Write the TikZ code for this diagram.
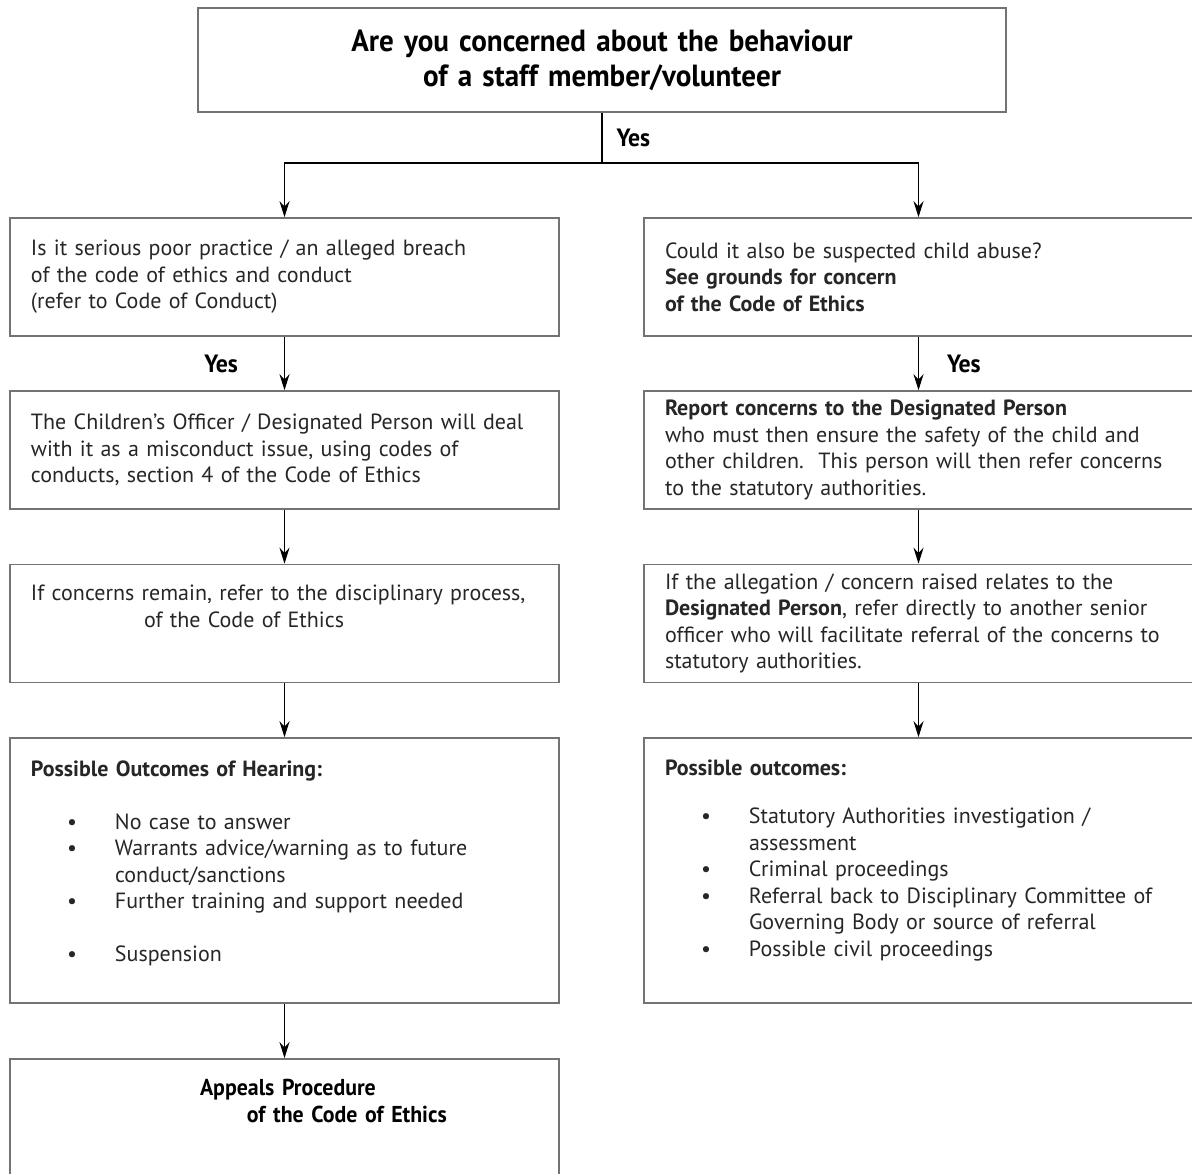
\documentclass[tikz,border=0pt]{standalone}
\usepackage{fontspec}
\setmainfont{PT Sans}
\newfontfamily\condfont[FakeStretch=0.95]{PT Sans}
\usetikzlibrary{arrows.meta,positioning}
\tikzset{
  box/.style={draw=black!55,line width=0.8pt,rectangle,minimum width=274.5pt,minimum height=59pt,
    text width=253.5pt,inner xsep=10.5pt,inner ysep=0pt,align=left,
    font=\fontsize{11}{13.25}\selectfont,text=black!85},
  bigbox/.style={box,minimum height=132.5pt},
  yes/.style={font=\condfont\bfseries\fontsize{12.5}{13}\selectfont,inner sep=0pt,text=black},
}
\newcommand{\outitem}[1]{\hspace*{18pt}\makebox[24pt][l]{\textbullet}#1}
\newcommand{\outmore}[1]{\hspace*{42pt}#1}

\begin{document}
\begin{tikzpicture}[x=0.5pt,y=-0.5pt,->,>={Stealth[length=8pt,width=5pt]},line width=0.55pt]
\useasboundingbox (0,0) rectangle (1192,1173);
\clip (0,0) rectangle (1192,1173);

\node[box,minimum width=404pt,minimum height=52pt,text width=383pt,align=center,
  font=\condfont\bfseries\fontsize{15.3}{17.5}\selectfont,text=black] (top) at (602,60)
  {Are you concerned about the behaviour\\of a staff member/volunteer};
\coordinate (split) at (602,163);

% left column
\node[box] (L1) at (284.5,277)
  {Is it serious poor practice / an alleged breach\\
   of the code of ethics and conduct\\
   (refer to Code of Conduct)};
\node[box] (L2) at (284.5,450)
  {The Children's Officer / Designated Person will deal\\
   with it as a misconduct issue, using codes of\\
   conducts, section 4 of the Code of Ethics};
\node[box] (L3) at (284.5,623.5)
  {If concerns remain, refer to the disciplinary process,\\
   \hspace*{56.5pt}of the Code of Ethics\\ \strut};
\node[bigbox] (L4) at (284.5,870.5)
  {\textbf{Possible Outcomes of Hearing:}\\ \strut\\
   \outitem{No case to answer}\\
   \outitem{Warrants advice/warning as to future}\\
   \outmore{conduct/sanctions}\\
   \outitem{Further training and support needed}\\ \strut\\
   \outitem{Suspension}\\[-8pt] \strut};
\node[box,font=\condfont\bfseries\fontsize{11.5}{13.25}\selectfont,text=black] (L5) at (284.5,1118)
  {\hspace*{84.5pt}Appeals Procedure\\
   \hspace*{108pt}of the Code of Ethics\\ \strut};

% right column
\node[box] (R1) at (918.5,277)
  {Could it also be suspected child abuse?\\
   \textbf{See grounds for concern}\\
   \textbf{of the Code of Ethics}};
\node[box] (R2) at (918.5,450)
  {\textbf{Report concerns to the Designated Person}\\
   who must then ensure the safety of the child and\\
   other children.\ \ This person will then refer concerns\\
   to the statutory authorities.};
\node[box] (R3) at (918.5,623.5)
  {If the allegation / concern raised relates to the\\
   \textbf{Designated Person}, refer directly to another senior\\
   officer who will facilitate referral of the concerns to\\
   statutory authorities.};
\node[bigbox] (R4) at (918.5,870.5)
  {\textbf{Possible outcomes:}\\[10.75pt]
   \outitem{Statutory Authorities investigation /}\\
   \outmore{assessment}\\
   \outitem{Criminal proceedings}\\
   \outitem{Referral back to Disciplinary Committee of}\\
   \outmore{Governing Body or source of referral}\\
   \outitem{Possible civil proceedings}\\[-5pt] \strut};

\draw[-] (top) -- node[yes,right=7pt] {Yes} (split);
\draw (split) -| (L1);
\draw (split) -| (R1);

\draw (L1) -- node[yes,left=23pt] {Yes} (L2);
\draw (L2) -- (L3);
\draw (L3) -- (L4);
\draw (L4) -- (L5);

\draw (R1) -- node[yes,right=14pt] {Yes} (R2);
\draw (R2) -- (R3);
\draw (R3) -- (R4);

\end{tikzpicture}
\end{document}
